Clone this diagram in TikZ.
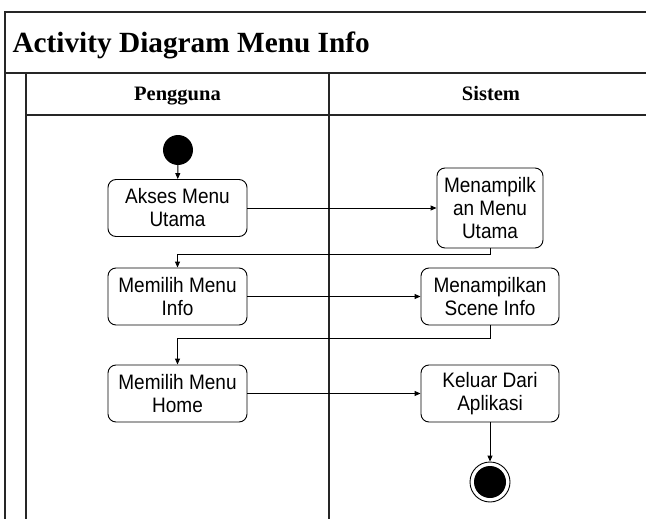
\documentclass[tikz,border=0pt]{standalone}
\usepackage{fontspec}
\usepackage{graphicx}
\setmainfont{Liberation Serif}
\setsansfont{Liberation Sans}
\usetikzlibrary{arrows.meta}
\newcommand{\tl}[1]{\scalebox{1}[1.1]{#1}}
\begin{document}
\begin{tikzpicture}[x=1pt,y=-1pt,
 frame/.style={draw=black!85, line width=1.2pt},
 act/.style={draw=black, rounded corners=8pt, line width=0.9pt, minimum width=139pt, minimum height=57pt, inner sep=0pt, align=center, font=\sffamily\fontsize{19}{23}\selectfont},
 flow/.style={draw=black, line width=0.9pt, -{Triangle[length=6pt,width=5pt]}},
 lanehead/.style={anchor=base, font=\bfseries\fontsize{20.5}{24}\selectfont},
]
\useasboundingbox (0,0) rectangle (646,519);
\begin{scope}
\clip (0,0) rectangle (646,519);
\draw[frame] (5,540) -- (5,12) -- (670,12);
\draw[frame] (5,73) -- (670,73);
\draw[frame] (26,73) -- (26,540);
\draw[frame] (26,115) -- (670,115);
\draw[frame] (329,73) -- (329,540);
\end{scope}

\node[anchor=base west, font=\bfseries\fontsize{29.3}{34}\selectfont] (title) at (9,53) {Activity Diagram Menu Info};
\node[lanehead] (lane1) at (177.5,100.5) {Pengguna};
\node[lanehead] (lane2) at (491,100.5) {Sistem};

\node[circle, fill=black, minimum size=30pt, inner sep=0pt] (start) at (178,150) {};

\node[act] (akses) at (177.5,208) {\tl{Akses Menu}\\\tl{Utama}};
\node[act, minimum width=106pt, minimum height=80pt] (utama) at (490,208) {\tl{Menampilk}\\\tl{an Menu}\\\tl{Utama}};
\node[act] (info) at (177.5,296.5) {\tl{Memilih Menu}\\\tl{Info}};
\node[act, minimum width=138pt] (scene) at (490,296.5) {\tl{Menampilkan}\\\tl{Scene Info}};
\node[act] (home) at (177.5,393.5) {\tl{Memilih Menu}\\\tl{Home}};
\node[act, minimum width=138pt] (keluar) at (490,393.5) {\tl{Keluar Dari}\\\tl{Aplikasi}};

\node[circle, draw=black, line width=0.9pt, minimum size=40pt, inner sep=0pt] (end) at (490,482) {};
\node[circle, fill=black, minimum size=32pt, inner sep=0pt] (endin) at (end.center) {};

\coordinate (b1) at (490,254);
\coordinate (b2) at (490,338);

\draw[flow] (start) -- (akses);
\draw[flow] (akses) -- (utama);
\draw[flow] (utama.south) -- (b1) -| (info.north);
\draw[flow] (info) -- (scene);
\draw[flow] (scene.south) -- (b2) -| (home.north);
\draw[flow] (home) -- (keluar);
\draw[flow] (keluar) -- (end);
\end{tikzpicture}
\end{document}
